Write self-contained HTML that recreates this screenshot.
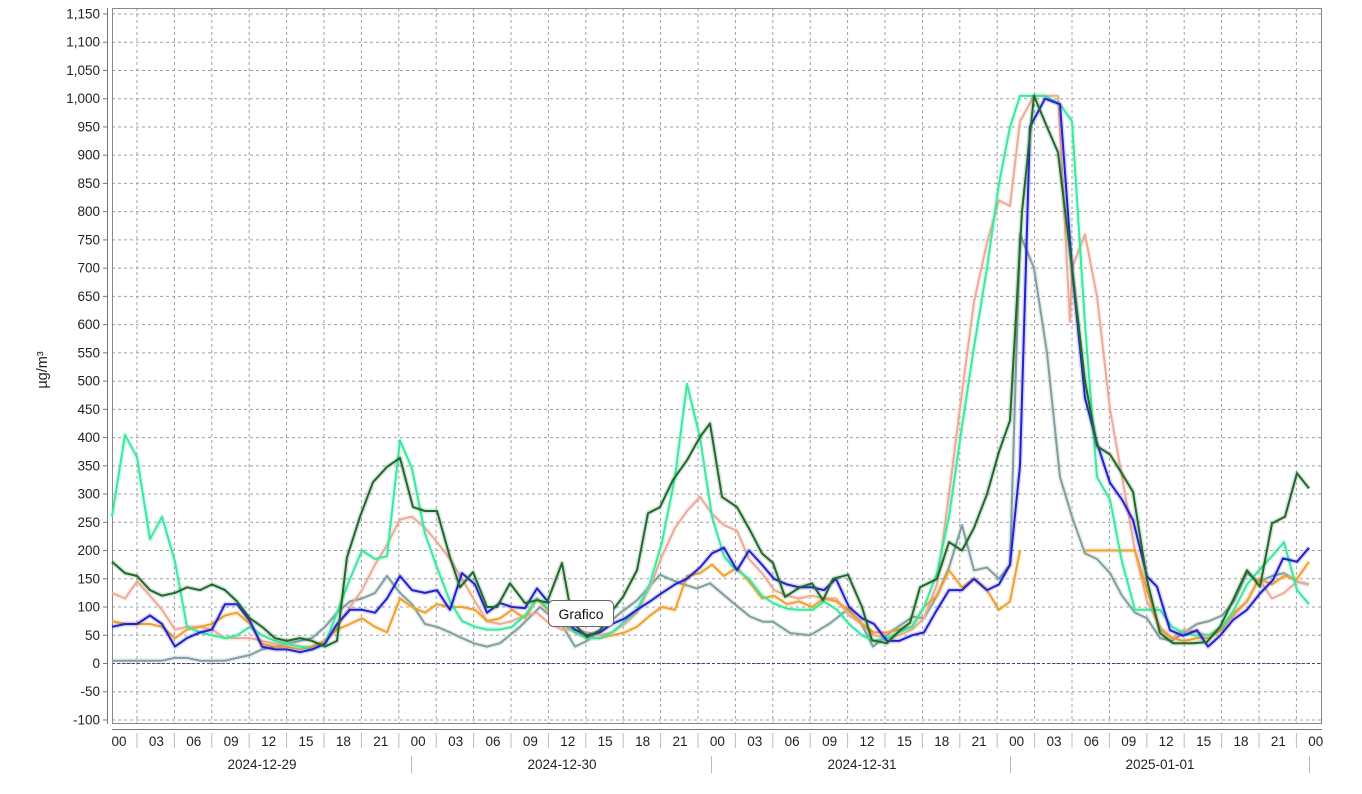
<!DOCTYPE html>
<html><head><meta charset="utf-8"><style>
html,body{margin:0;padding:0;background:#fff;}
svg{display:block;font-family:"Liberation Sans","DejaVu Sans",sans-serif;}
</style></head><body>
<svg id="c" width="1362" height="794" viewBox="0 0 1362 794" xmlns="http://www.w3.org/2000/svg">
<rect width="1362" height="794" fill="#fff"/>
<g id="grid" stroke="#a0a0a0" stroke-width="1" stroke-dasharray="3,3"></g>
<line x1="112" y1="663.5" x2="1322" y2="663.5" stroke="#404080" stroke-dasharray="3,2" stroke-width="1"/>
<rect x="112.5" y="8.5" width="1209" height="715" fill="none" stroke="#888" stroke-width="1"/>
<line x1="107.5" y1="8" x2="107.5" y2="724" stroke="#777"/>
<line x1="112" y1="729.5" x2="1322" y2="729.5" stroke="#777"/>
<g id="yl" font-size="13.5" fill="#222" text-anchor="end"></g>
<g id="xl" font-size="13.5" fill="#222" text-anchor="middle"></g>
<g font-size="13.5" fill="#222" text-anchor="middle">
<text x="262" y="769">2024-12-29</text>
<text x="562" y="769">2024-12-30</text>
<text x="862" y="769">2024-12-31</text>
<text x="1160" y="769">2025-01-01</text>
</g>
<g stroke="#bbb"><line x1="411.5" y1="756" x2="411.5" y2="773"/><line x1="711.5" y1="756" x2="711.5" y2="773"/><line x1="1010.5" y1="756" x2="1010.5" y2="773"/><line x1="1309.5" y1="756" x2="1309.5" y2="773"/></g>
<text transform="translate(47,370) rotate(-90)" font-size="14.5" fill="#222" text-anchor="middle">µg/m³</text>
<g id="series" fill="none" stroke-linejoin="round"></g>
<rect x="548.5" y="600.5" width="65" height="26" rx="5" fill="#fff" stroke="#666"/>
<text x="581" y="619" font-size="14" fill="#111" text-anchor="middle">Grafico</text>
</svg>
<script>
var NS="http://www.w3.org/2000/svg";
function el(p,n,a){var e=document.createElementNS(NS,n);for(var k in a)e.setAttribute(k,a[k]);p.appendChild(e);return e;}
function Y(v){return 663.5-v*0.5648;}
var grid=document.getElementById('grid'),yl=document.getElementById('yl'),xl=document.getElementById('xl');
for(var v=-100;v<=1150;v+=50){var y=Y(v);el(grid,'line',{x1:112,x2:1322,y1:y,y2:y});
el(document.getElementById('c'),'line',{x1:103,x2:107,y1:y,y2:y,stroke:'#777'});
var t=el(yl,'text',{x:100,y:y+4.5});t.textContent=(v>=1000?(Math.floor(v/1000)+','+String(v%1000).padStart(3,'0')):v);}
for(var k=0;k<32;k++){var x=137+k*37.4;el(grid,'line',{x1:x,x2:x,y1:8,y2:724});
el(document.getElementById('c'),'line',{x1:x,x2:x,y1:733,y2:748,stroke:'#bbb'});}
var labs=['00','03','06','09','12','15','18','21'];
for(var k=0;k<=32;k++){var t=el(xl,'text',{x:119+k*37.4,y:746});t.textContent=labs[k%8];}
var S=[
['#7f9fa0',[112,5,125,5,137,5,150,5,162,5,175,10,187,10,200,5,212,5,225,5,237,10,250,15,262,25,275,30,287,35,300,40,312,45,325,65,337,90,350,110,362,115,375,125,387,155,400,125,412,105,425,70,437,65,450,55,462,45,475,35,487,30,500,36,520,65,540,100,563,65,575,30,587,40,600,59,620,89,637,112,660,157,680,142,697,133,710,142,730,112,750,83,763,74,773,74,790,54,810,50,830,71,847,95,860,75,873,30,893,59,913,83,924,80,937,120,949,170,962,245,974,165,987,170,999,150,1010,175,1020,760,1034,700,1047,550,1060,330,1072,260,1085,195,1097,185,1110,160,1122,120,1135,90,1147,80,1160,45,1172,40,1184,55,1197,70,1209,75,1222,85,1234,110,1247,160,1259,145,1272,155,1284,160,1297,145,1309,140]],
['#eeaa98',[112,125,125,115,137,145,150,120,162,95,175,60,187,65,200,65,212,60,225,45,237,45,250,45,262,40,275,35,287,35,300,30,312,30,325,40,337,65,350,100,362,130,375,175,387,210,400,255,412,260,425,240,437,215,450,185,462,150,475,110,487,75,500,70,512,75,525,85,537,90,550,70,562,60,575,60,587,55,600,50,612,55,625,70,637,90,650,135,662,190,675,240,687,270,700,295,712,265,724,245,737,235,749,185,762,160,774,130,787,120,799,115,812,120,824,115,836,115,849,85,862,70,874,50,887,45,899,50,912,60,924,80,937,140,949,300,962,480,974,640,987,745,999,820,1010,810,1020,960,1034,1005,1047,1005,1058,1005,1070,605,1072,700,1085,760,1097,650,1110,450,1122,330,1135,200,1147,110,1160,65,1172,45,1184,60,1197,55,1209,50,1222,65,1234,85,1247,110,1259,150,1272,115,1284,125,1297,145,1309,140]],
['#f0a030',[112,75,125,70,137,70,150,70,162,65,175,45,187,60,200,65,212,70,225,85,237,90,250,70,262,35,275,30,287,30,300,25,312,30,325,40,337,60,350,70,362,80,375,65,387,55,400,115,412,100,425,90,437,105,450,100,462,100,475,95,487,75,500,80,512,95,525,80,537,115,550,90,562,70,575,55,587,45,600,45,612,50,625,55,637,65,650,85,662,100,675,95,687,155,700,160,712,175,724,155,737,170,749,145,762,115,774,120,787,105,799,110,812,100,824,115,836,110,849,95,862,70,874,55,887,55,899,60,912,65,924,100,937,120,949,165,962,135,974,150,987,130,999,95,1010,110,1020,200]],
['#f0a030',[1085,200,1135,200,1147,130,1160,60,1172,45,1184,40,1197,45,1209,45,1222,60,1234,90,1247,110,1259,150,1272,140,1284,155,1297,150,1309,180]],
['#3ce8a0',[112,260,125,405,137,365,150,220,162,260,175,180,187,65,200,55,212,50,225,45,237,50,250,65,262,50,275,40,287,35,300,30,312,25,325,35,337,90,350,150,362,200,375,185,387,190,400,395,412,345,425,230,437,170,450,110,462,75,475,65,487,60,500,60,512,65,525,85,537,115,550,95,562,75,575,55,587,45,600,45,612,55,625,75,637,95,650,142,662,215,675,330,687,495,700,400,712,260,724,190,733,171,749,150,762,120,773,107,787,97,799,95,813,95,824,110,837,95,849,70,862,50,874,40,887,45,899,55,912,65,924,100,937,160,949,260,962,420,974,560,987,700,999,850,1010,950,1020,1005,1045,1005,1060,990,1072,960,1085,600,1097,330,1110,290,1122,180,1135,95,1147,95,1160,95,1172,65,1184,54,1197,49,1209,50,1222,65,1234,95,1247,140,1259,165,1272,190,1284,215,1297,130,1309,105]],
['#2222cc',[112,65,125,70,137,70,150,85,162,70,175,30,187,45,200,55,212,60,225,105,237,105,250,75,262,30,275,25,287,25,300,20,312,25,325,35,337,70,350,95,362,95,375,90,387,115,400,155,412,130,425,125,437,130,450,95,462,160,475,140,487,90,500,107,512,100,525,98,537,133,550,105,562,80,575,60,587,50,600,55,612,70,625,80,637,95,650,110,662,125,675,140,687,150,700,170,712,195,724,205,737,165,749,200,762,175,774,150,787,140,799,135,812,135,824,130,836,150,849,100,862,80,874,70,887,40,899,40,912,50,924,55,937,95,949,130,962,130,974,150,987,130,999,140,1010,175,1020,350,1030,950,1045,1000,1060,990,1072,700,1085,470,1097,390,1110,320,1122,290,1133,254,1147,154,1157,136,1170,59,1183,49,1197,59,1208,30,1220,49,1233,77,1247,95,1260,124,1273,148,1283,186,1297,180,1309,205]],
['#1f6a2a',[112,180,125,160,137,155,150,130,162,120,175,125,187,135,200,130,212,140,225,130,237,110,250,80,262,65,275,45,287,40,300,45,312,40,325,30,337,40,347,188,360,260,373,321,387,348,400,364,413,277,425,270,437,270,450,188,460,135,473,162,487,100,497,100,510,142,525,107,537,112,547,108,562,178,573,72,587,47,600,59,613,95,623,118,637,165,648,266,660,277,673,325,687,360,700,401,710,425,722,295,737,277,750,236,762,195,773,178,785,118,800,135,812,142,823,112,833,150,848,157,862,100,872,41,887,36,900,59,910,72,920,135,937,150,949,215,962,200,974,240,987,300,999,375,1010,430,1022,800,1034,1005,1047,950,1058,905,1072,700,1085,500,1097,385,1110,370,1120,342,1133,304,1147,148,1160,54,1173,36,1193,36,1207,38,1220,65,1233,112,1247,165,1260,136,1272,248,1285,260,1297,337,1309,310]]
];
var g=document.getElementById('series');
S.forEach(function(s){var a=s[1],p=[];for(var i=0;i<a.length;i+=2)p.push(a[i]+','+Y(a[i+1]).toFixed(1));
var pts=p.join(' ');
el(g,'polyline',{points:pts,stroke:s[0],'stroke-width':5,'stroke-opacity':0.18});
el(g,'polyline',{points:pts,stroke:s[0],'stroke-width':2});});
</script>
</body></html>
